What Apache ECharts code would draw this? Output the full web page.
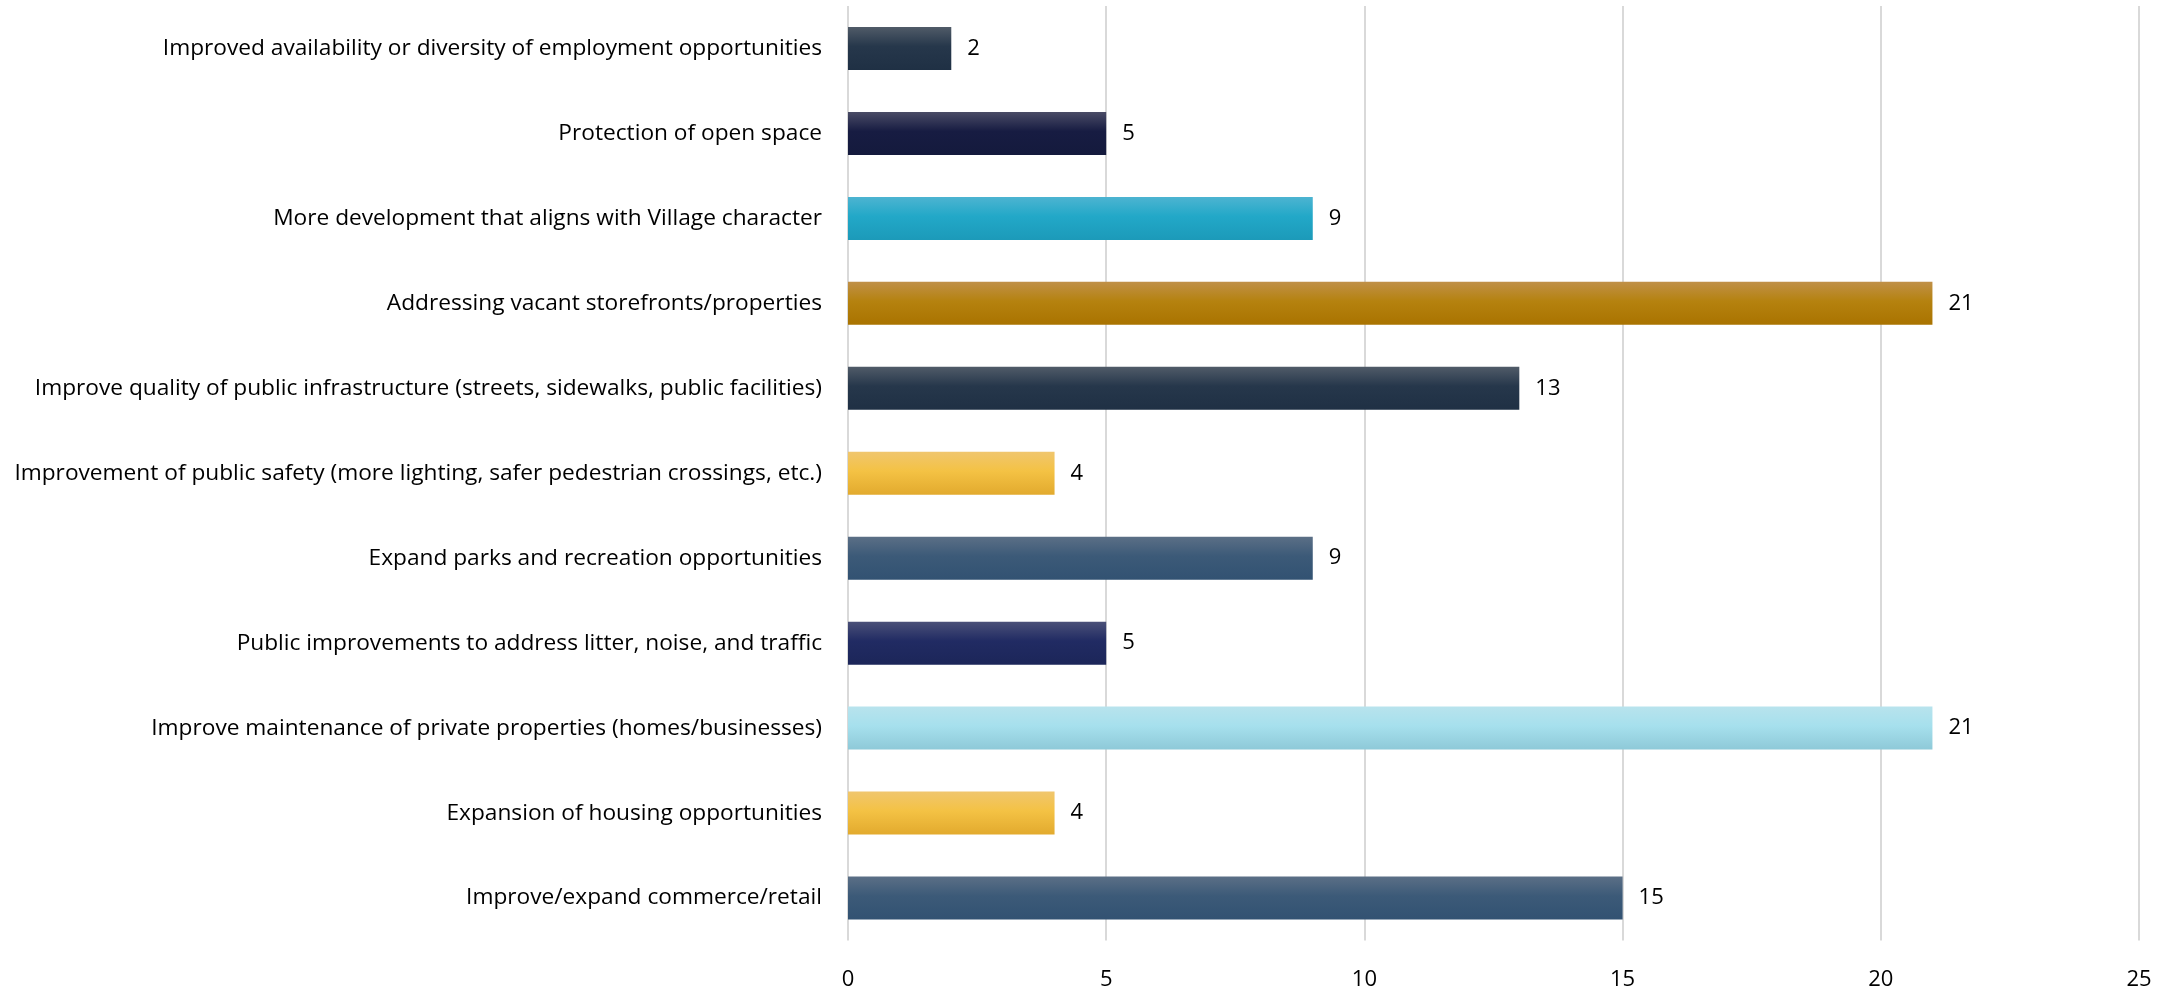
<!DOCTYPE html>
<html><head><meta charset="utf-8">
<script src="https://cdn.jsdelivr.net/npm/echarts@6/dist/echarts.min.js"></script>
<style>html,body{margin:0;padding:0;background:#fff}#c{width:2173px;height:989px}</style>
</head><body><div id="c"></div>
<script>
const categories = [
  "Improved availability or diversity of employment opportunities",
  "Protection of open space",
  "More development that aligns with Village character",
  "Addressing vacant storefronts/properties",
  "Improve quality of public infrastructure (streets, sidewalks, public facilities)",
  "Improvement of public safety (more lighting, safer pedestrian crossings, etc.)",
  "Expand parks and recreation opportunities",
  "Public improvements to address litter, noise, and traffic",
  "Improve maintenance of private properties (homes/businesses)",
  "Expansion of housing opportunities",
  "Improve/expand commerce/retail"
];
const values = [2, 5, 9, 21, 13, 4, 9, 5, 21, 4, 15];
const barTopColors = ["#505b68","#4a4c66","#4db4d1","#c09048","#505b68","#f0c66e","#5b6f86","#4a5078","#b8e3ed","#f0c66e","#5b6f86"];
const barMidColors = ["#26374b","#171c42","#22a8c8","#b5820f","#26374b","#f4c244","#3c5a78","#212b63","#a6e0ed","#f4c244","#3c5a78"];
const barBottomColors = ["#1f3044","#141a3d","#1c9ab9","#a97300","#1f3044","#e2aa2e","#325272","#1c2659","#8ec9d8","#e2aa2e","#325272"];
const xTicks = [0, 5, 10, 15, 20, 25];

const font = "'Open Sans', 'Noto Sans', sans-serif";
const chart = echarts.init(document.getElementById('c'));
const data = values.map((v, i) => ({
  value: v,
  itemStyle: {
    color: new echarts.graphic.LinearGradient(0, 0, 0, 1, [
      {offset: 0, color: barTopColors[i]},
      {offset: 0.45, color: barMidColors[i]},
      {offset: 1, color: barBottomColors[i]}
    ])
  }
}));
chart.setOption({
  animation: false,
  grid: {left: 848, right: 34, top: 6, bottom: 48.5, containLabel: false, outerBoundsMode: 'none'},
  xAxis: {
    type: 'value', min: xTicks[0], max: xTicks[xTicks.length - 1], interval: 5,
    axisLine: {show: false}, axisTick: {show: false},
    splitLine: {lineStyle: {color: '#d9d9d9', width: 2}},
    axisLabel: {color: '#000', fontSize: 22, fontFamily: font, margin: 28}
  },
  yAxis: {
    type: 'category', data: categories, inverse: true,
    axisLine: {show: false}, axisTick: {show: false},
    axisLabel: {color: '#000', fontSize: 22.7, fontFamily: font, margin: 26, padding: [9, 0, 0, 0]}
  },
  series: [{
    type: 'bar', data: data, barWidth: '50.6%',
    label: {show: true, position: 'right', distance: 16, color: '#000', fontSize: 22, fontFamily: font, padding: [9, 0, 0, 0]}
  }]
});
</script></body></html>
